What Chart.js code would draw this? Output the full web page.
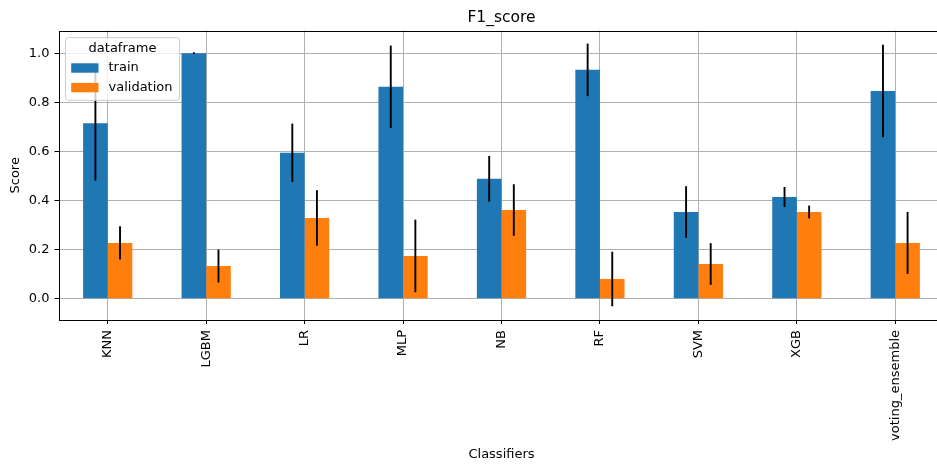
<!DOCTYPE html>
<html><head><meta charset="utf-8">
<script src="https://cdn.jsdelivr.net/npm/chart.js@4"></script>
<style>html,body{margin:0;padding:0;background:#fff;overflow:hidden}canvas{display:block}</style>
</head><body>
<canvas id="c" width="937" height="464"></canvas>
<script>
const categories = ['KNN','LGBM','LR','MLP','NB','RF','SVM','XGB','voting_ensemble'];
const trainScores = [0.715, 1.000, 0.594, 0.863, 0.488, 0.932, 0.353, 0.414, 0.846];
const trainErr = [0.234, 0.004, 0.119, 0.168, 0.093, 0.107, 0.105, 0.041, 0.188];
const validationScores = [0.227, 0.133, 0.329, 0.174, 0.361, 0.080, 0.141, 0.353, 0.227];
const validationErr = [0.068, 0.067, 0.113, 0.148, 0.105, 0.111, 0.085, 0.026, 0.126];
const yTicks = [0.0, 0.2, 0.4, 0.6, 0.8, 1.0];
const seriesNames = ['train', 'validation'];
const seriesColors = ['#1f77b4', '#ff7f0e'];
const legendTitle = 'dataframe';
const errorArrays = [trainErr, validationErr];

Chart.defaults.font.family = "'DejaVu Sans', sans-serif";
Chart.defaults.color = '#000';

// The reference axes extend a little past the right edge of the picture (cropped figure).
const extendPlugin = {
  id: 'extendRight',
  afterLayout(chart) {
    const RIGHT = chart.width + 7.5;
    const xs = chart.scales.x;
    xs.right = RIGHT;
    xs.width = RIGHT - xs.left;
    xs.configure();
    chart.chartArea.right = RIGHT;
    chart.chartArea.width = RIGHT - chart.chartArea.left;
    if (chart.titleBlock) {
      chart.titleBlock.left = chart.chartArea.left;
      chart.titleBlock.right = RIGHT;
      chart.titleBlock.width = RIGHT - chart.chartArea.left;
    }
  }
};

const overlayPlugin = {
  id: 'overlay',
  afterDraw(chart) {
    const ctx = chart.ctx;
    const ys = chart.scales.y;
    const a = chart.chartArea;
    ctx.save();
    // frame (spines)
    ctx.strokeStyle = '#000';
    ctx.lineWidth = 1;
    const L = Math.round(a.left) + 0.5, R = Math.round(a.right) - 0.5;
    const T = Math.round(a.top) + 0.5, B = Math.round(a.bottom) + 0.5;
    ctx.strokeRect(L, T, R - L, B - T);
    // error bars
    ctx.lineWidth = 1.9;
    chart.data.datasets.forEach((ds, i) => {
      const meta = chart.getDatasetMeta(i);
      const errs = errorArrays[i];
      meta.data.forEach((bar, j) => {
        const v = ds.data[j], e = errs[j];
        ctx.beginPath();
        ctx.moveTo(bar.x, ys.getPixelForValue(v + e));
        ctx.lineTo(bar.x, ys.getPixelForValue(v - e));
        ctx.stroke();
      });
    });
    // legend
    ctx.font = '13px "DejaVu Sans"';
    const labW = Math.max(...chart.data.datasets.map(d => ctx.measureText(d.label).width));
    const x0 = a.left + 7, y0 = a.top + 7;
    const w = Math.max(114, 5.7 + 27.3 + 10 + labW + 4.5), h = 62.7, r = 3;
    ctx.beginPath();
    ctx.moveTo(x0 + r, y0);
    ctx.arcTo(x0 + w, y0, x0 + w, y0 + h, r);
    ctx.arcTo(x0 + w, y0 + h, x0, y0 + h, r);
    ctx.arcTo(x0, y0 + h, x0, y0, r);
    ctx.arcTo(x0, y0, x0 + w, y0, r);
    ctx.closePath();
    ctx.fillStyle = 'rgba(255,255,255,0.8)';
    ctx.fill();
    ctx.strokeStyle = '#cccccc';
    ctx.lineWidth = 1;
    ctx.stroke();
    ctx.fillStyle = '#000';
    ctx.textBaseline = 'middle';
    ctx.textAlign = 'center';
    ctx.fillText(legendTitle, x0 + w / 2, y0 + 11);
    ctx.textAlign = 'left';
    chart.data.datasets.forEach((ds, i) => {
      const yc = y0 + 30.4 + i * 19.6;
      ctx.fillStyle = ds.backgroundColor;
      ctx.fillRect(x0 + 5.7, yc - 4.7, 27.3, 9.4);
      ctx.fillStyle = '#000';
      ctx.fillText(ds.label, x0 + 43, yc);
    });
    ctx.restore();
  }
};

new Chart(document.getElementById('c'), {
  type: 'bar',
  data: {
    labels: categories,
    datasets: [
      { label: seriesNames[0], data: trainScores, backgroundColor: seriesColors[0], borderWidth: 0, categoryPercentage: 0.5, barPercentage: 1.0 },
      { label: seriesNames[1], data: validationScores, backgroundColor: seriesColors[1], borderWidth: 0, categoryPercentage: 0.5, barPercentage: 1.0 }
    ]
  },
  options: {
    responsive: false,
    animation: false,
    devicePixelRatio: 1,
    layout: { padding: { left: 0, right: 0, top: 0, bottom: 0 } },
    plugins: {
      legend: { display: false },
      tooltip: { enabled: false },
      title: { display: true, fullSize: false, text: 'F1_score', color: '#000', font: { size: 15.5, weight: 'normal' }, padding: { top: 9, bottom: 3 } }
    },
    scales: {
      x: {
        z: 1,
        offset: true,
        afterFit: s => { s.height = 144; },
        ticks: { minRotation: 90, maxRotation: 90, autoSkip: false, font: { size: 13 }, color: '#000', padding: 6 },
        grid: { offset: false, color: '#b0b0b0', lineWidth: 1, tickColor: '#000', tickLength: 4 },
        border: { display: false },
        title: { display: true, text: 'Classifiers', color: '#000', font: { size: 13 }, padding: { top: 0, bottom: 2 } }
      },
      y: {
        z: 1,
        min: -0.087,
        max: 1.092,
        afterBuildTicks: s => { s.ticks = yTicks.map(v => ({ value: v })); },
        afterFit: s => { s.width = 58.5; },
        ticks: { callback: v => Number(v).toFixed(1), font: { size: 13 }, color: '#000', padding: 5 },
        grid: { color: '#b0b0b0', lineWidth: 1, tickColor: '#000', tickLength: 4 },
        border: { display: false },
        title: { display: true, text: 'Score', color: '#000', font: { size: 13 }, padding: { top: 8, bottom: 0 } }
      }
    }
  },
  plugins: [extendPlugin, overlayPlugin]
});
</script>
</body></html>
